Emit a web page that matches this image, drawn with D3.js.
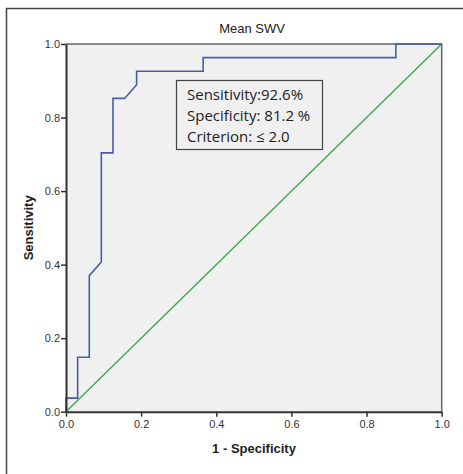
<!DOCTYPE html>
<html>
<head>
<meta charset="utf-8">
<script src="https://cdn.jsdelivr.net/npm/d3@7"></script>
<style>
  body { margin: 0; background: #fff; }
  svg { display: block; }
  .tick text { font-family: "Liberation Sans", Arial, sans-serif; font-size: 11px; fill: #333; }
</style>
</head>
<body>
<script>
// ROC curve data
var fpr = [0, 0, 0.031, 0.031, 0.062, 0.062, 0.094, 0.094, 0.125, 0.125, 0.156, 0.188, 0.188, 0.365, 0.365, 0.878, 0.878, 1];
var tpr = [0, 0.037, 0.037, 0.148, 0.148, 0.370, 0.407, 0.704, 0.704, 0.852, 0.852, 0.889, 0.926, 0.926, 0.963, 0.963, 1, 1];
var refLine = [0, 1];
var tickValues = [0, 0.2, 0.4, 0.6, 0.8, 1.0];
var boxLines = ["Sensitivity:92.6%", "Specificity: 81.2 %", "Criterion:  \u2264 2.0"];
var title = "Mean SWV";

var W = 463, H = 474;
var svg = d3.select("body").append("svg").attr("width", W).attr("height", H);

// outer frame
svg.append("path")
    .attr("d", "M6.5," + H + "V8.5H" + W)
    .attr("fill", "none")
    .attr("stroke", "#444")
    .attr("stroke-width", 1.5);

var x = d3.scaleLinear().domain([0, 1]).range([66, 441.7]);
var y = d3.scaleLinear().domain([0, 1]).range([411.7, 44]);

// plot background
svg.append("rect")
    .attr("x", x(0)).attr("y", y(1))
    .attr("width", x(1) - x(0)).attr("height", y(0) - y(1))
    .attr("fill", "#f0f0f0");

// top and right border
svg.append("path")
    .attr("d", "M" + x(0) + "," + y(1) + "H" + x(1) + "V" + y(0))
    .attr("fill", "none")
    .attr("stroke", "#666")
    .attr("stroke-width", 1.5);

// reference diagonal
var line = d3.line()
    .x(function(d) { return x(d[0]); })
    .y(function(d) { return y(d[1]); });

svg.append("path")
    .attr("d", line(refLine.map(function(v) { return [v, v]; })))
    .attr("fill", "none")
    .attr("stroke", "#3fa84f")
    .attr("stroke-width", 1.4);

// ROC curve
svg.append("path")
    .attr("d", line(fpr.map(function(v, i) { return [v, tpr[i]]; })))
    .attr("fill", "none")
    .attr("stroke", "#4a5ca6")
    .attr("stroke-width", 1.6);

// axes
var xAxis = svg.append("g")
    .attr("transform", "translate(0," + y(0) + ")")
    .call(d3.axisBottom(x).tickValues(tickValues).tickFormat(d3.format(".1f"))
        .tickSize(5).tickSizeOuter(0).tickPadding(4));

var yAxis = svg.append("g")
    .attr("transform", "translate(" + x(0) + ",0)")
    .call(d3.axisLeft(y).tickValues(tickValues).tickFormat(d3.format(".1f"))
        .tickSize(5).tickSizeOuter(0).tickPadding(1));

[xAxis, yAxis].forEach(function(a) {
  a.select(".domain").attr("stroke", "#333").attr("stroke-width", 2);
  a.selectAll(".tick line").attr("stroke", "#333").attr("stroke-width", 1.5);
});

// title and axis titles
svg.append("text")
    .attr("x", 252).attr("y", 33)
    .attr("text-anchor", "middle")
    .style("font", "13px 'Liberation Sans', Arial, sans-serif")
    .attr("fill", "#222")
    .text(title);

svg.append("text")
    .attr("x", 254).attr("y", 453)
    .attr("text-anchor", "middle")
    .style("font", "bold 13px 'Liberation Sans', Arial, sans-serif")
    .attr("fill", "#222")
    .text("1 - Specificity");

svg.append("text")
    .attr("transform", "translate(33," + ((y(0) + y(1)) / 2) + ") rotate(-90)")
    .attr("text-anchor", "middle")
    .style("font", "bold 13px 'Liberation Sans', Arial, sans-serif")
    .attr("fill", "#222")
    .text("Sensitivity");

// annotation box
var box = svg.append("g");
box.append("rect")
    .attr("x", 176.5).attr("y", 80.5)
    .attr("width", 146).attr("height", 69)
    .attr("fill", "#f0f0f0")
    .attr("stroke", "#444")
    .attr("stroke-width", 1.2);

box.selectAll("text")
    .data(boxLines)
    .enter().append("text")
    .attr("x", 187)
    .attr("y", function(d, i) { return 99.5 + i * 21; })
    .style("font", "15px 'Open Sans', 'Noto Sans', sans-serif")
    .attr("fill", "#222")
    .text(function(d) { return d; });
</script>
</body>
</html>
